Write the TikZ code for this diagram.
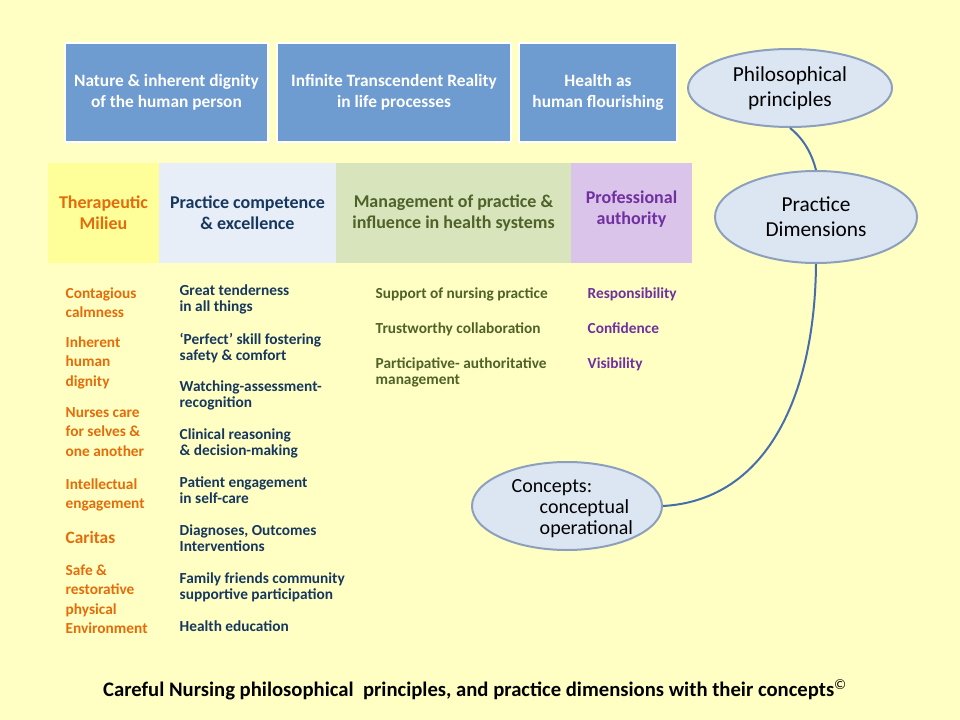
\documentclass[tikz,border=0pt]{standalone}
\usepackage{fontspec}
\setmainfont{Carlito}
\definecolor{bgyellow}{RGB}{255,255,196}
\definecolor{topblue}{RGB}{110,155,208}
\definecolor{milieu}{RGB}{255,255,153}
\definecolor{compet}{RGB}{232,238,248}
\definecolor{manage}{RGB}{216,228,188}
\definecolor{author}{RGB}{218,196,234}
\definecolor{ellfill}{RGB}{220,230,242}
\definecolor{ellline}{RGB}{140,160,190}
\definecolor{connblue}{RGB}{70,110,170}
\definecolor{orangetxt}{RGB}{228,108,10}
\definecolor{bluetxt}{RGB}{23,55,94}
\definecolor{greentxt}{RGB}{79,98,40}
\definecolor{purpletxt}{RGB}{112,48,160}
\tikzset{
  topbox/.style={fill=topblue, draw=white, line width=1pt, text=white, font=\fontsize{13}{16}\selectfont\bfseries, align=center},
  dimbox/.style={align=center, font=\fontsize{13.5}{16}\selectfont\bfseries},
  ellbox/.style={ellipse, draw=ellline, line width=1.5pt, fill=ellfill, align=center, font=\fontsize{16}{19}\selectfont},
  item/.style={anchor=north west, align=left, font=\fontsize{11.5}{12.3}\selectfont\bfseries},
  link/.style={connblue, line width=1.5pt}
}
\usetikzlibrary{shapes.geometric}
\begin{document}
\begin{tikzpicture}[x=0.75pt,y=-0.75pt]
  \fill[bgyellow] (0,0) rectangle (960,720);
  \useasboundingbox (0,0) rectangle (960,720);
  % philosophical principles
  \node[topbox, minimum width=203*0.75pt, minimum height=99*0.75pt] (nature) at (166.5,92.5) {Nature \& inherent dignity\\of the human person};
  \node[topbox, minimum width=234*0.75pt, minimum height=99*0.75pt] (reality) at (394,92.5) {Infinite Transcendent Reality\\in life processes};
  \node[topbox, minimum width=158*0.75pt, minimum height=99*0.75pt] (health) at (598,92.5) {Health as\\human flourishing};
  % practice dimensions
  \node[dimbox, fill=milieu, text=orangetxt, minimum width=111*0.75pt, minimum height=100*0.75pt] (milieu) at (103.5,213) {Therapeutic\\Milieu};
  \node[dimbox, fill=compet, text=bluetxt, minimum width=177*0.75pt, minimum height=100*0.75pt] (compet) at (247.5,213) {Practice competence\\\& excellence};
  \node[dimbox, fill=manage, text=greentxt, minimum width=235*0.75pt, minimum height=100*0.75pt] (manage) at (453.5,213) {Management of practice \&\\influence in health systems};
  \node[fill=author, minimum width=121*0.75pt, minimum height=100*0.75pt] (author) at (631.5,213) {};
  \node[dimbox, text=purpletxt] (authortext) at (631.5,209) {Professional\\authority};
  % concepts
  \begin{scope}[every node/.style={item, text=orangetxt, font=\fontsize{11.5}{14.5}\selectfont\bfseries}]
    \node at (61,283) {Contagious\\calmness};
    \node at (61,332) {Inherent\\human\\dignity};
    \node at (61,403) {Nurses care\\for selves \&\\one another};
    \node at (61,474) {Intellectual\\engagement};
    \node[font=\fontsize{13}{15}\selectfont\bfseries] at (61,527) {Caritas};
    \node at (61,560) {Safe \&\\restorative\\physical\\Environment};
  \end{scope}
  \begin{scope}[every node/.style={item, text=bluetxt}]
    \node at (175,280) {Great tenderness\\in all things};
    \node at (175,328) {‘Perfect’ skill  fostering\\safety \& comfort};
    \node at (175,376) {Watching-assessment-\\recognition};
    \node at (175,424) {Clinical reasoning\\\& decision-making};
    \node at (175,472) {Patient engagement\\in self-care};
    \node at (175,520) {Diagnoses, Outcomes\\Interventions};
    \node at (175,568) {Family friends  community\\supportive participation};
    \node at (175,616) {Health education};
  \end{scope}
  \begin{scope}[every node/.style={item, text=greentxt}]
    \node at (371,283) {Support of  nursing practice};
    \node at (371,318) {Trustworthy collaboration};
    \node at (371,353) {Participative- authoritative\\management};
  \end{scope}
  \begin{scope}[every node/.style={item, text=purpletxt}]
    \node at (583,283) {Responsibility};
    \node at (583,318) {Confidence};
    \node at (583,353) {Visibility};
  \end{scope}
  % ellipses and connectors
  \node[ellbox, minimum width=204*0.75pt, minimum height=78*0.75pt] (philo) at (790,88) {Philosophical\\principles};
  \node[ellbox, minimum width=202*0.75pt, minimum height=92*0.75pt] (dims) at (816,217) {Practice\\Dimensions};
  \node[ellbox, minimum width=190*0.75pt, minimum height=88*0.75pt] (concepts) at (567,506) {};
  \node[anchor=north west, align=left, font=\fontsize{15}{15.5}\selectfont] (conceptstext) at (507,475) {Concepts:\\\hspace*{1.4em}conceptual\\\hspace*{1.4em}operational};
  \draw[link] (philo.south) .. controls (805,140) and (812,155) .. (dims.north);
  \draw[link] (dims.south) .. controls (815,390) and (770,500) .. (concepts.east);
  % caption
  \node[font=\fontsize{15.5}{18}\selectfont\bfseries] (caption) at (475,690) {Careful Nursing philosophical\ \ principles, and practice dimensions with their concepts\textsuperscript{\normalfont\textcopyright}};
\end{tikzpicture}
\end{document}
